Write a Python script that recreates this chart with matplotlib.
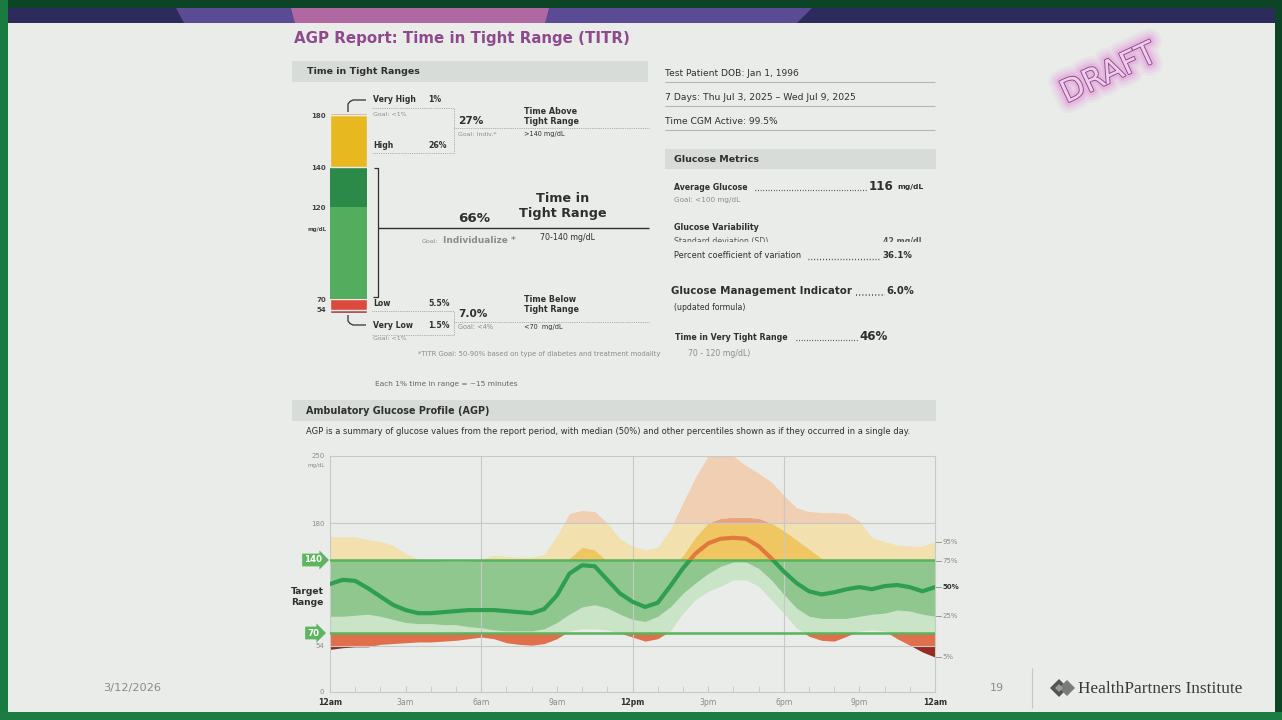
import numpy as np
import matplotlib.pyplot as plt
from matplotlib.patches import Rectangle, Polygon
import matplotlib.patheffects as pe
import matplotlib.transforms as mtransforms

# --- AGP percentiles, read every 30 min (mg/dL) ---
hours = np.arange(0, 24.5, 0.5)
p05 = [50, 52, 53, 53, 56, 57, 58, 59, 59, 60, 61, 63, 65, 63, 58, 56, 55, 57,
       63, 72, 74, 74, 73, 70, 65, 60, 63, 72, 89, 102, 110, 115, 121, 121, 115,
       102, 89, 75, 66, 61, 60, 66, 72, 73, 72, 63, 55, 47, 41]
p25 = [86, 86, 87, 88, 86, 83, 80, 79, 79, 78, 78, 76, 75, 73, 72, 72, 72, 74,
       80, 88, 95, 97, 94, 88, 83, 81, 86, 95, 108, 118, 127, 134, 138, 138, 132,
       121, 107, 94, 86, 84, 84, 84, 86, 88, 89, 92, 91, 88, 86]
p50 = [117, 121, 120, 113, 105, 97, 92, 89, 89, 90, 91, 92, 92, 92, 91, 90, 89, 93,
       106, 127, 135, 134, 121, 108, 100, 95, 99, 115, 132, 147, 158, 163, 164, 163,
       155, 142, 129, 118, 110, 107, 109, 112, 114, 112, 115, 116, 114, 110, 114]
p75 = [137, 140, 140, 138, 135, 131, 128, 125, 124, 124, 125, 126, 127, 128, 127,
       126, 125, 127, 132, 142, 154, 151, 139, 130, 126, 122, 125, 133, 145, 165,
       180, 185, 186, 186, 185, 180, 172, 162, 152, 142, 137, 136, 136, 135, 136,
       137, 136, 135, 139]
p95 = [165, 165, 165, 162, 160, 156, 147, 141, 140, 139, 139, 139, 141, 145, 144,
       143, 143, 146, 166, 190, 193, 192, 180, 163, 155, 151, 154, 173, 201, 228,
       250, 250, 250, 240, 232, 223, 209, 196, 192, 191, 191, 190, 182, 164, 160,
       156, 155, 155, 160]
x_tick_pos = [0, 3, 6, 9, 12, 15, 18, 21, 24]
x_tick_labels = ['12am', '3am', '6am', '9am', '12pm', '3pm', '6pm', '9pm', '12am']
pct_names = ['5%', '25%', '50%', '75%', '95%']

# --- Time in tight ranges bar (bottom to top) ---
titr_names = ['Very Low', 'Low', 'Very Tight', 'Tight', 'High', 'Very High']
titr_pcts = [1.5, 5.5, 46, 20, 26, 1]
titr_colors = ['#a3303b', '#dc4a3d', '#52ad5f', '#2b8a48', '#e8b820', '#e49b55']
titr_edges = [True, True, False, False, True, True]
titr_tick_labels = ['54', '70', '120', '140', '180']

# --- colours ---
BG = '#e9ece9'
BAR_BG = '#d8dcd9'
DARK = '#2f2f2f'
GRAY = '#8c8c8c'
GRID = '#c6c9c6'
TAG_GREEN = '#5cb55f'
ranges = [(0, 54), (54, 70), (70, 140), (140, 180), (180, 250)]
outer_cols = ['#972b22', '#e0704b', '#c9e4c6', '#f2e0ae', '#f0cfb3']
inner_cols = ['#972b22', '#e0704b', '#8fc78f', '#efc662', '#eca27a']

W, H = 1282, 720
fig = plt.figure(figsize=(W / 100, H / 100), dpi=100, facecolor='#0c4526')

bg = fig.add_axes([0, 0, 1, 1])
bg.set_xlim(0, W)
bg.set_ylim(H, 0)
bg.axis('off')

# slide frame
bg.add_patch(Rectangle((0, 0), 8, H, color='#1b7a40', lw=0))
bg.add_patch(Rectangle((0, 712), W, 8, color='#1d7c42', lw=0))
bg.add_patch(Rectangle((8, 8), 1267, 704, color=BG, lw=0))
bg.add_patch(Rectangle((8, 8), 1267, 15, color='#2d2a5c', lw=0))
bg.add_patch(Polygon([(176, 8), (812, 8), (797, 23), (184, 23)], color='#5b4b94', lw=0))
bg.add_patch(Polygon([(291, 8), (549, 8), (545, 23), (295, 23)], color='#b068a2', lw=0))


def put(x, y, s, size, color=DARK, weight='normal', ha='left', va='center', **kw):
    return bg.text(x, y, s, fontsize=size, color=color, fontweight=weight,
                   ha=ha, va=va, **kw)


def seg(pts, color=DARK, lw=0.9, ls='-'):
    xs, ys = zip(*pts)
    bg.plot(xs, ys, color=color, lw=lw, ls=ls, solid_capstyle='butt')


put(294, 39, 'AGP Report: Time in Tight Range (TITR)', 10.8, color='#8e4a8c', weight='bold')

# section bars
bg.add_patch(Rectangle((292, 61), 356, 21, color=BAR_BG, lw=0))
put(307, 71.5, 'Time in Tight Ranges', 6.8, weight='bold')
bg.add_patch(Rectangle((665, 149), 271, 20, color=BAR_BG, lw=0))
put(674, 159, 'Glucose Metrics', 6.8, weight='bold')
bg.add_patch(Rectangle((292, 400), 644, 21, color=BAR_BG, lw=0))
put(306, 410.5, 'Ambulatory Glucose Profile (AGP)', 6.95, weight='bold')
put(306, 431.5, 'AGP is a summary of glucose values from the report period, with median (50%) '
    'and other percentiles shown as if they occurred in a single day.', 6.0)

# --- left TITR labels ---
put(373, 100, 'Very High', 5.6, weight='bold')
put(428, 100, '1%', 5.6, weight='bold')
put(373, 114, 'Goal: <1%', 4.5, color=GRAY)
put(373, 145, 'High', 5.6, weight='bold')
put(428, 145, '26%', 5.6, weight='bold')
put(458, 121, '27%', 7.6, weight='bold')
put(458, 134, 'Goal: Indiv.*', 4.5, color=GRAY)
put(524, 111.5, 'Time Above', 5.8, weight='bold')
put(524, 122, 'Tight Range', 5.8, weight='bold')
put(524, 134, '>140 mg/dL', 4.7)
put(474, 218, '66%', 9.6, weight='bold', ha='center')
put(563, 198, 'Time in', 9.2, weight='bold', ha='center')
put(563, 214, 'Tight Range', 9.2, weight='bold', ha='center')
put(422, 241.5, 'Goal:', 4.6, color=GRAY)
put(443, 240.5, 'Individualize *', 6.5, color=GRAY, weight='bold')
put(568, 237, '70-140 mg/dL', 5.7, ha='center')
put(373, 304, 'Low', 5.6, weight='bold')
put(428, 304, '5.5%', 5.6, weight='bold')
put(458, 314, '7.0%', 7.6, weight='bold')
put(458, 327, 'Goal: <4%', 4.7, color=GRAY)
put(524, 299, 'Time Below', 5.8, weight='bold')
put(524, 310, 'Tight Range', 5.8, weight='bold')
put(524, 327, '<70  mg/dL', 4.7)
put(373, 325, 'Very Low', 5.6, weight='bold')
put(428, 325, '1.5%', 5.6, weight='bold')
put(373, 339, 'Goal: <1%', 4.5, color=GRAY)
put(418, 354, '*TITR Goal: 50-90% based on type of diabetes and treatment modality', 4.95, color=GRAY)
put(375, 384, 'Each 1% time in range = ~15 minutes', 5.35, color='#666666')

# brackets and dotted guides
seg([(348, 112), (348, 104), (350, 101.5), (353, 100), (366, 100)])
seg([(348, 315), (348, 321), (350, 323.5), (353, 325), (366, 325)])
seg([(374, 168), (378, 168), (378, 297), (373, 297)])
seg([(378, 228), (649, 228)], lw=1.0)
for pts in ([(372, 108), (454, 108), (454, 153), (372, 153)],
            [(454, 128), (650, 128)],
            [(372, 311), (454, 311), (454, 335), (372, 335)],
            [(454, 322), (650, 322)]):
    seg(pts, color='#9a9a9a', lw=0.6, ls=(0, (1, 1.2)))

# --- right panel ---
put(665, 74, 'Test Patient DOB: Jan 1, 1996', 6.6)
put(665, 98, '7 Days: Thu Jul 3, 2025 \u2013 Wed Jul 9, 2025', 6.7)
put(665, 121.5, 'Time CGM Active: 99.5%', 6.6)
for yy in (82, 106, 130):
    seg([(665, yy), (935, yy)], color='#b4b8b4', lw=0.8)

dots = (0, (0.6, 1.5))
put(674, 187, 'Average Glucose', 5.6, weight='bold')
seg([(755, 190), (866, 190)], lw=0.9, ls=dots)
put(869, 186, '116', 8.6, weight='bold')
put(897, 187.5, 'mg/dL', 5.4, weight='bold')
put(674, 200, 'Goal: <100 mg/dL', 5.2, color=GRAY)
put(674, 227, 'Glucose Variability', 5.8, weight='bold')
put(674, 241.5, 'Standard deviation (SD)', 5.6, color='#555555')
put(883, 241.5, '42 mg/dL', 5.6, weight='bold', color='#555555')
bg.add_patch(Rectangle((660, 241.5), 280, 8, color=BG, lw=0, zorder=3))
put(674, 256, 'Percent coefficient of variation', 5.95, zorder=4)
seg([(808, 259), (880, 259)], lw=1.0, ls=dots)
put(882, 256, '36.1%', 6.2, weight='bold')
put(671, 291, 'Glucose Management Indicator', 7.4, weight='bold')
seg([(856, 294.5), (885, 294.5)], lw=1.1, ls=dots)
put(886, 291, '6.0%', 7.2, weight='bold')
put(674, 307, '(updated formula)', 5.6)
put(675, 337.5, 'Time in Very Tight Range', 5.7, weight='bold')
seg([(796, 340), (858, 340)], lw=0.9, ls=dots)
put(859, 336, '46%', 8.6, weight='bold')
put(688, 354, '70 - 120 mg/dL)', 5.6, color=GRAY)

# --- footer ---
put(103, 688, '3/12/2026', 8.2, color='#8a8a8a')
put(990, 688, '19', 8.0, color='#8a8a8a')
seg([(1032, 668), (1032, 708)], color='#c4c6c4', lw=0.8)
bg.add_patch(Polygon([(1050, 688), (1059, 679), (1068, 688), (1059, 697)], color='#555555', lw=0))
bg.add_patch(Polygon([(1059, 688), (1067, 680), (1075, 688), (1067, 696)], color='#7a7a7a', lw=0))
bg.add_patch(Polygon([(1055, 688), (1059, 684), (1063, 688), (1059, 692)], color='#9a9a9a', lw=0))
put(1078, 689, 'HealthPartners Institute', 12.4, color='#3a3a3a', family='Liberation Serif')

# DRAFT stamp
glow = [pe.withStroke(linewidth=w, foreground='#e49ddc', alpha=a)
        for w, a in ((16, 0.12), (12, 0.18), (8, 0.25), (5, 0.35))]
put(1109, 74, 'DRAFT', 22.5, color='#efcdea', ha='center', rotation=25,
    path_effects=glow + [pe.withStroke(linewidth=1.3, foreground='#8b4a8b')])
put(307, 597, 'Target\nRange', 6.6, weight='bold', ha='center', linespacing=1.15)
put(316, 466, 'mg/dL', 4.0, color=GRAY, ha='center')

# --- stacked TITR bar ---
bax = fig.add_axes([330 / W, (H - 313) / H, 37 / W, 200 / H])
bax.patch.set_alpha(0)
bottom = 0
bounds = []
for pct, col, edge in zip(titr_pcts, titr_colors, titr_edges):
    bax.bar(0, pct, bottom=bottom, width=1, color=col,
            edgecolor=BG if edge else 'none', linewidth=1.0 if edge else 0)
    bottom += pct
    bounds.append(bottom)
bax.set_xlim(-0.5, 0.5)
bax.set_ylim(0, 100)
bax.set_xticks([])
bax.set_yticks(bounds[:5], titr_tick_labels)
bax.tick_params(axis='y', length=0, pad=3, labelsize=5.0)
for lab in bax.get_yticklabels():
    lab.set_fontweight('bold')
    lab.set_color('#444444')
bax.text(-0.6, 42, 'mg/dL', fontsize=4.0, fontweight='bold', color='#444444',
         ha='right', va='center')
for s in bax.spines.values():
    s.set_visible(False)

# --- AGP chart ---
YK = [-1000, 0, 54, 70, 140, 180, 250, 1000]
PK = [-850, 0, 46, 59, 132, 169, 236, 958]


def fwd(y):
    return np.interp(y, YK, PK)


def inv(p):
    return np.interp(p, PK, YK)


ax = fig.add_axes([330 / W, (H - 692) / H, 605 / W, 236 / H])
ax.patch.set_alpha(0)
ax.set_yscale('function', functions=(fwd, inv))
ax.set_xlim(0, 24)
ax.set_ylim(0, 250)

for (r0, r1), oc, ic in zip(ranges, outer_cols, inner_cols):
    if r0 == 70:
        # inside the target range the upper bands read as one green
        bands = [(p05, p25, oc), (p25, p95, ic)]
    else:
        bands = [(p05, p25, oc), (p25, p75, ic), (p75, p95, oc)]
    for lo, hi, col in bands:
        poly = ax.fill_between(hours, lo, hi, color=col, lw=0, zorder=1)
        poly.set_clip_path(Rectangle((0, r0), 24, r1 - r0, transform=ax.transData))

for r0, r1, col in [(0, 140, '#2e9e4f'), (140, 250, '#e07a3c')]:
    ln, = ax.plot(hours, p50, color=col, lw=3.0, zorder=4, solid_capstyle='round')
    ln.set_clip_path(Rectangle((0, r0), 24, r1 - r0, transform=ax.transData))

for yv in (180, 54):
    ax.axhline(yv, color=GRID, lw=0.8, zorder=1.5)
for xv in (6, 12, 18):
    ax.axvline(xv, color=GRID, lw=0.8, zorder=1.5)
for yv in (140, 70):
    ax.axhline(yv, color='#57b45a', lw=1.8, zorder=3)
for s in ax.spines.values():
    s.set_color(GRID)
    s.set_linewidth(0.8)

ax.set_xticks(x_tick_pos, x_tick_labels)
ax.set_xticks(range(25), minor=True)
ax.tick_params(axis='x', which='both', direction='in', length=4, color=GRID,
               labelsize=5.6, pad=4)
for i, lab in enumerate(ax.get_xticklabels()):
    if x_tick_pos[i] % 12 == 0:
        lab.set_fontweight('bold')
        lab.set_color(DARK)
    else:
        lab.set_color(GRAY)
ax.set_yticks([0, 54, 180, 250], ['0', '54', '180', '250'])
ax.yaxis.set_minor_locator(plt.NullLocator())
ax.tick_params(axis='y', length=0, labelsize=5.0, labelcolor=GRAY, pad=4)

tr = mtransforms.blended_transform_factory(ax.transAxes, ax.transData)
for yv in (140, 70):
    ax.text(-0.028, yv, str(yv), transform=tr, ha='center', va='center', color='white',
            fontsize=6.2, fontweight='bold',
            bbox=dict(boxstyle='rarrow,pad=0.22', fc=TAG_GREEN, ec='none'))

for name, arr in zip(pct_names, [p05, p25, p50, p75, p95]):
    ax.plot([24, 24.25], [arr[-1], arr[-1]], color=GRAY, lw=0.6, clip_on=False)
    ax.text(24.3, arr[-1], name, fontsize=5.0, va='center', ha='left',
            color=DARK if name == '50%' else GRAY,
            fontweight='bold' if name == '50%' else 'normal')

fig.savefig('out.png', dpi=100, facecolor=fig.get_facecolor())
